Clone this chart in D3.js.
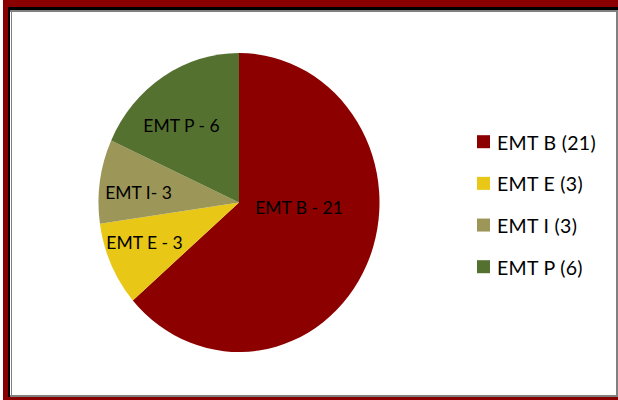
<!DOCTYPE html>
<html><head><meta charset="utf-8">
<script src="https://cdn.jsdelivr.net/npm/d3@7"></script>
<style>html,body{margin:0;padding:0;background:#fff}svg{display:block}</style>
</head><body>
<script>
const categories = ["EMT B", "EMT E", "EMT I", "EMT P"];
const values = [21, 3, 3, 6];
const sliceLabels = ["EMT B - 21", "EMT E - 3", "EMT I- 3", "EMT P - 6"];
const legendLabels = ["EMT B (21)", "EMT E (3)", "EMT I (3)", "EMT P (6)"];
const colors = ["#8c0000", "#e8c716", "#9c9658", "#557130"];

const W = 618, H = 400;
const svg = d3.select("body").append("svg").attr("width", W).attr("height", H);

// frame
svg.append("rect").attr("x", 0).attr("y", 0).attr("width", W).attr("height", H).attr("fill", "#fff");
svg.append("rect").attr("x", 3).attr("y", 0).attr("width", W - 3).attr("height", H).attr("fill", "#8a0000");
svg.append("rect").attr("x", 8).attr("y", 7).attr("width", W - 8).attr("height", 390).attr("fill", "#000");
svg.append("rect").attr("x", 10).attr("y", 10).attr("width", W - 10).attr("height", 387).attr("fill", "#808080");
svg.append("rect").attr("x", 10).attr("y", 12).attr("width", 1).attr("height", 383).attr("fill", "#fff");
svg.append("rect").attr("x", 12).attr("y", 12).attr("width", 604).attr("height", 383).attr("fill", "#fff");

const cx = 239, cy = 202.5, R = 149.5, sx = 140.5 / 149.5;
const color = d3.scaleOrdinal().domain(categories).range(colors);
const pie = d3.pie().sort(null).value(d => d.v);
const data = categories.map((c, i) => ({c, v: values[i], i}));
const arcs = pie(data);
const arc = d3.arc().innerRadius(0).outerRadius(R);

const g = svg.append("g").attr("transform", `translate(${cx},${cy}) scale(${sx},1)`);
g.selectAll("path").data(arcs).enter().append("path")
  .attr("d", arc).attr("fill", d => color(d.data.c));

// slice labels
const lg = svg.append("g").attr("transform", `translate(${cx},${cy})`);
const labelPos = [[60, 7], [-94.5, 42.5], [-100.5, -8], [-57.5, -75]];
lg.selectAll("text").data(arcs).enter().append("text")
  .attr("x", (d, i) => labelPos[i][0])
  .attr("y", (d, i) => labelPos[i][1])
  .attr("text-anchor", "middle")
  .attr("dominant-baseline", "middle")
  .attr("font-family", "Lato, 'Open Sans', sans-serif")
  .attr("font-size", 17.5)
  .attr("fill", "#000")
  .text((d, i) => sliceLabels[i]);

// legend
const ly = d3.scalePoint().domain(categories).range([141.7, 266.7]);
const leg = svg.append("g");
const items = leg.selectAll("g").data(categories).enter().append("g")
  .attr("transform", d => `translate(477,${ly(d)})`);
items.append("rect").attr("x", 0).attr("y", -6.5).attr("width", 13).attr("height", 13)
  .attr("fill", d => color(d));
items.append("text").attr("x", 20).attr("y", 0.5)
  .attr("dominant-baseline", "central")
  .attr("font-family", "Lato, 'Open Sans', sans-serif")
  .attr("font-size", 19.5)
  .attr("letter-spacing", 0.3)
  .attr("fill", "#000")
  .text((d, i) => legendLabels[i]);
</script>
</body></html>
